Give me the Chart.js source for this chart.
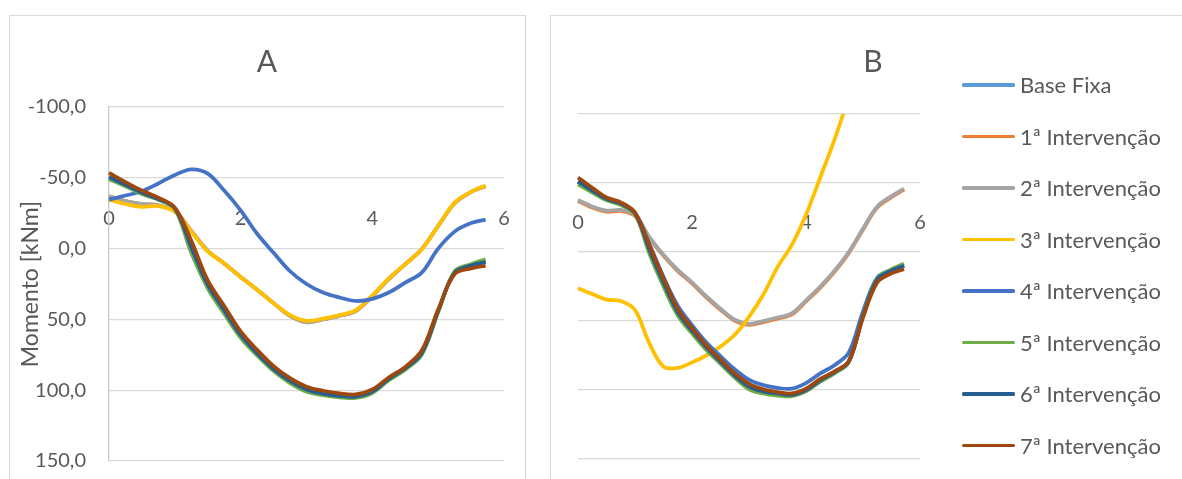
<!DOCTYPE html>
<html>
<head>
<meta charset="utf-8">
<script src="https://cdn.jsdelivr.net/npm/chart.js@4.4.1/dist/chart.umd.min.js"></script>
<style>
  html, body { margin: 0; padding: 0; background: #fff; overflow: hidden; }
  body { width: 1182px; height: 479px; position: relative; font-family: Lato, "Open Sans", sans-serif; color: #595959; }
  .frame { position: absolute; border: 1px solid #D9D9D9; box-sizing: border-box; }
  #frameA { left: 9px; top: 15px; width: 517px; height: 520px; }
  #frameB { left: 550px; top: 15px; width: 660px; height: 520px; }
  canvas { position: absolute; }
  #chartA { left: 10px; top: 16px; }
  #chartB { left: 551px; top: 16px; }
  .title { position: absolute; font-size: 30px; line-height: 36px; transform: translate(-50%, -50%); }
  #titleA { left: 267px; top: 60px; }
  #titleB { left: 873px; top: 60px; }
  #legend { position: absolute; left: 962px; top: 59px; }
  .item { height: 51.5px; display: flex; align-items: center; font-size: 22px; white-space: nowrap; }
  .swatch { width: 53px; height: 3.5px; margin-right: 5px; border-radius: 1.5px; }
</style>
</head>
<body>
<div class="frame" id="frameA"></div>
<div class="frame" id="frameB"></div>
<canvas id="chartA" width="514" height="470"></canvas>
<canvas id="chartB" width="645" height="470"></canvas>
<div class="title" id="titleA">A</div>
<div class="title" id="titleB">B</div>
<div id="legend"></div>
<script>
// Positions along the element (m) where the bending moment is sampled
const positions = [0, 0.25, 0.5, 0.75, 1, 1.25, 1.5, 1.75, 2, 2.25, 2.5, 2.75, 3, 3.25, 3.5, 3.75, 4, 4.25, 4.5, 4.75, 5, 5.25, 5.5, 5.72];

const seriesNames = ['Base Fixa', '1ª Intervenção', '2ª Intervenção', '3ª Intervenção', '4ª Intervenção', '5ª Intervenção', '6ª Intervenção', '7ª Intervenção'];
const seriesColors = ['#5B9BD5', '#ED7D31', '#A5A5A5', '#FFC000', '#4472C4', '#70AD47', '#255E91', '#9E480E'];

const yTicks = [-100, -50, 0, 50, 100, 150];
const xTicks = [0, 2, 4, 6];

// Panel A — moments (kNm)
const baseFixaA = [-50.5, -45, -39.5, -35, -28.5, -1, 25.5, 43.5, 61, 74, 85, 93.5, 99.5, 102.5, 104, 104.5, 101, 92, 84.5, 74, 44, 17, 12, 9.5];
const interv1A  = [-37, -33.5, -31.5, -30.5, -26.5, -12.5, 1.5, 10.5, 20, 29, 38.5, 47.5, 52, 50, 47.5, 44, 33.5, 21.5, 11, 0.5, -16, -32, -40, -44];
const interv2A  = [-37, -33.5, -31.5, -30.5, -26.5, -12.5, 1.5, 10.5, 20, 29, 38.5, 47.5, 52, 50, 47.5, 44, 33.5, 21.5, 11, 0.5, -16, -32, -40, -44];
const interv3A  = [-34.6, -31.5, -29.5, -30, -26, -12, 2, 10.5, 20, 29, 38.5, 47, 51, 49.5, 47, 43.5, 33, 21, 11, 0.5, -16, -32.5, -40, -44.6];
const interv4A  = [-34.6, -37.5, -40.5, -46, -52, -56, -53, -41, -27, -10.5, 3, 16, 25, 31, 34.5, 37, 35.5, 31, 24, 17, 0, -12, -18, -20.5];
const interv5A  = [-49, -44, -38.5, -34.5, -28, 3, 28, 46, 63, 75.5, 86.5, 95, 101, 103.5, 105, 105.5, 102, 93, 85.5, 75, 45, 16, 11, 7.5];
const interv6A  = [-50.5, -45, -39.5, -35, -28.5, -1, 25.5, 43.5, 61, 74, 85, 93.5, 99.5, 102.5, 104, 104.5, 101, 92, 84.5, 74, 44, 17, 12, 9.5];
const interv7A  = [-53.5, -47, -41, -36, -29, -5.5, 22.5, 40.6, 58.5, 71.5, 83, 91.5, 97.5, 100.4, 102.3, 103, 99.5, 91, 83.5, 72, 43, 18, 14, 12];

// Panel B — moments (kNm)
const baseFixaB = [-51, -44.5, -38.5, -35, -28, -2, 22, 43.5, 57, 69, 79.5, 89.5, 97.5, 101, 102.5, 103.5, 100, 93, 87, 79.5, 46.5, 20, 13.5, 10];
const interv1B  = [-37, -32.2, -29.2, -29.7, -26.2, -10.2, 2.8, 13.8, 22.8, 32.8, 41.8, 49.8, 52.8, 50.8, 48.3, 45.3, 35.8, 25.8, 14.3, 0.8, -16.2, -32.2, -39.7, -45.2];
const interv2B  = [-37.7, -33, -30, -30.5, -27, -11, 2, 13, 22, 32, 41, 49, 52, 50, 47.5, 44.5, 35, 25, 13.5, 0, -17, -33, -40.5, -46];
const interv3B  = [26.3, 30.5, 34.5, 35.5, 42, 66, 83, 84, 80, 75, 68.5, 60, 47, 31, 11, -5, -27, -54, -81.5, -112];
const interv4B  = [-51, -45, -38.5, -35, -28.5, -6, 18, 39, 53, 65.5, 75.5, 85, 92.5, 96.5, 98.5, 99, 95, 88, 82, 73, 43, 18.5, 13, 10];
const interv5B  = [-49, -43, -37.5, -34, -27.5, 1, 25, 46, 59, 71, 81, 91, 99.5, 102.5, 104, 104.5, 101, 94, 88, 80, 46, 19, 12.5, 8.5];
const interv6B  = [-51, -44.5, -38.5, -35, -28, -2, 22, 43.5, 57, 69, 79.5, 89.5, 97.5, 101, 102.5, 103.5, 100, 93, 87, 79.5, 46.5, 20, 13.5, 10];
const interv7B  = [-54, -46.5, -39.5, -36, -28.5, -5, 19, 41, 55, 67.5, 78, 88, 95.5, 99.5, 101.5, 102.5, 99, 92, 86.5, 79, 47.5, 22, 15.5, 12.5];

const FONT = 'Lato';
const TEXT = '#595959';

function buildDatasets(seriesList) {
  const sets = seriesList.map((vals, i) => ({
    label: seriesNames[i],
    data: vals.map((v, k) => ({ x: positions[k], y: v })),
    borderColor: seriesColors[i],
    backgroundColor: seriesColors[i],
    borderWidth: 3.75,
    pointRadius: 0,
    tension: 0.35,
    fill: false,
    clip: { left: false, top: 0, right: false, bottom: false }
  }));
  // later interventions are painted over earlier ones
  return sets.reverse();
}

function makeChart(id, seriesList, cfg) {
  return new Chart(document.getElementById(id), {
    type: 'line',
    data: { datasets: buildDatasets(seriesList) },
    options: {
      responsive: false,
      animation: false,
      devicePixelRatio: 1,
      layout: { padding: { top: cfg.top, right: cfg.right, bottom: cfg.bottom, left: 0 } },
      plugins: { legend: { display: false }, tooltip: { enabled: false } },
      scales: {
        x: {
          type: 'linear', min: 0, max: 6,
          position: { y: -30 },
          afterBuildTicks: s => { s.ticks = xTicks.map(v => ({ value: v })); },
          grid: { display: false, drawTicks: false },
          border: { display: false },
          ticks: { padding: 0, maxRotation: 0, autoSkip: false, color: TEXT, font: { family: FONT, size: 20 } }
        },
        y: {
          type: 'linear', reverse: true, min: -100, max: 150,
          afterBuildTicks: s => { s.ticks = yTicks.map(v => ({ value: v })); },
          afterFit: s => { s.width = cfg.axisWidth; s.paddingTop = 0; s.paddingBottom = 0; },
          grid: { color: '#D9D9D9', lineWidth: 1.3, drawTicks: false },
          border: { display: cfg.showAxis, color: '#C8C8C8', width: 1.3 },
          ticks: {
            display: cfg.showAxis, padding: 23, color: TEXT, font: { family: FONT, size: 20 },
            callback: v => v.toFixed(1).replace('.', ',')
          },
          title: {
            display: cfg.showAxis, text: 'Momento [kNm]', color: TEXT,
            font: { family: FONT, size: 23 }, padding: { top: 7, bottom: 0 }
          }
        }
      }
    }
  });
}

makeChart('chartA', [baseFixaA, interv1A, interv2A, interv3A, interv4A, interv5A, interv6A, interv7A],
  { top: 91, right: 20, bottom: 25, axisWidth: 99, showAxis: true });
makeChart('chartB', [baseFixaB, interv1B, interv2B, interv3B, interv4B, interv5B, interv6B, interv7B],
  { top: 98, right: 276, bottom: 27, axisWidth: 27, showAxis: false });

// Legend for the series
const legend = document.getElementById('legend');
seriesNames.forEach((name, i) => {
  const item = document.createElement('div');
  item.className = 'item';
  const sw = document.createElement('span');
  sw.className = 'swatch';
  sw.style.background = seriesColors[i];
  const label = document.createElement('span');
  label.textContent = name;
  item.appendChild(sw);
  item.appendChild(label);
  legend.appendChild(item);
});
</script>
</body>
</html>
